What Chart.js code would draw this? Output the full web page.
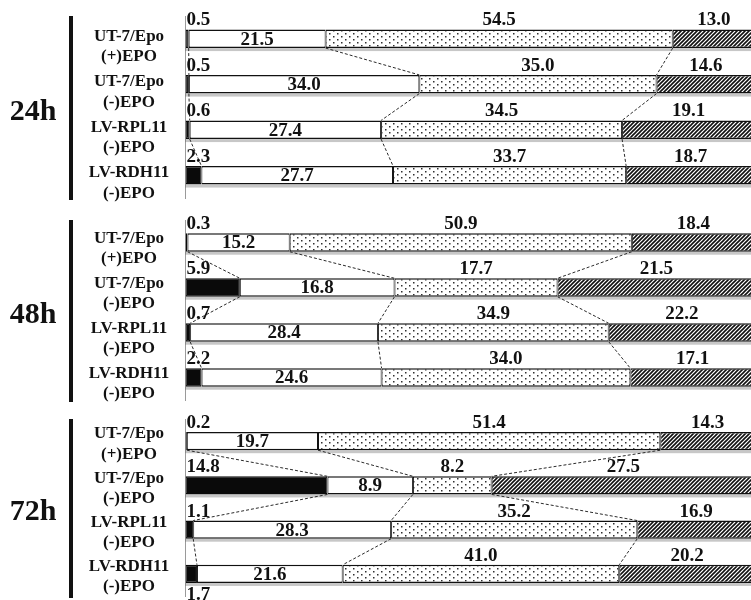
<!DOCTYPE html>
<html><head><meta charset="utf-8">
<script src="https://cdn.jsdelivr.net/npm/chart.js@4.4.0/dist/chart.umd.min.js"></script>
<style>
html,body{margin:0;padding:0;background:#fff;overflow:hidden;width:751px;height:600px;}
#wrap{position:relative;width:751px;height:600px;overflow:hidden;background:#fff;}
canvas{position:absolute;left:0;}
</style></head><body><div id="wrap">
<canvas id="c0" width="760" height="222" style="top:-4px"></canvas>
<canvas id="c1" width="760" height="220" style="top:200px"></canvas>
<canvas id="c2" width="760" height="217" style="top:399px"></canvas>
</div>
<script>
// ---- data ----
const groups = ['24h', '48h', '72h'];
const categories = [['UT-7/Epo', '(+)EPO'], ['UT-7/Epo', '(-)EPO'], ['LV-RPL11', '(-)EPO'], ['LV-RDH11', '(-)EPO']];
const blackVals   = [[0.5, 0.5, 0.6, 2.3], [0.3, 5.9, 0.7, 2.2], [0.2, 14.8, 1.1, 1.7]];
const whiteVals   = [[21.5, 34.0, 27.4, 27.7], [15.2, 16.8, 28.4, 24.6], [19.7, 8.9, 28.3, 21.6]];
const dottedVals  = [[54.5, 35.0, 34.5, 33.7], [50.9, 17.7, 34.9, 34.0], [51.4, 8.2, 35.2, 41.0]];
const hatchedVals = [[13.0, 14.6, 19.1, 18.7], [18.4, 21.5, 22.2, 17.1], [14.3, 27.5, 16.9, 20.2]];

// ---- layout / style ----
const AXIS_RIGHT = 185.5, LABEL_CX = 129;
const layoutPad = [{top:20,bottom:20,left:0,right:4.5},{top:20,bottom:20,left:0,right:4.5},{top:20,bottom:20,left:0,right:4.5}];
const labelOffsets = [8, 6, 3];
const belowLabel = [-1, -1, 3]; // index of bar whose first-segment label sits below the bar
const TICK_FONT = {family: '"Liberation Serif", "Times New Roman", serif', size: 17, weight: 'bold', lineHeight: 1.2};
const VAL_FONT = 'bold 19px "Liberation Serif", "Times New Roman", serif';
const GROUP_FONT = 'bold 30px "Liberation Serif", "Times New Roman", serif';

function makeDots(){
  const c = document.createElement('canvas'); c.width = 8; c.height = 6;
  const x = c.getContext('2d');
  x.fillStyle = '#fff'; x.fillRect(0, 0, 8, 6);
  x.fillStyle = '#303030';
  x.fillRect(1, 1, 1.5, 1.5); x.fillRect(5, 4, 1.5, 1.5);
  return x.createPattern(c, 'repeat');
}
function makeHatch(){
  const s = 4; const c = document.createElement('canvas'); c.width = s; c.height = s;
  const x = c.getContext('2d');
  x.fillStyle = '#fff'; x.fillRect(0, 0, s, s);
  x.strokeStyle = '#101010'; x.lineWidth = 1.6;
  x.beginPath();
  x.moveTo(-1, s + 1); x.lineTo(s + 1, -1);
  x.moveTo(-1, 1); x.lineTo(1, -1);
  x.moveTo(s - 1, s + 1); x.lineTo(s + 1, s - 1);
  x.stroke();
  return x.createPattern(c, 'repeat');
}
const dotPat = makeDots(), hatchPat = makeHatch();

// widest tick label for centring
const mctx = document.createElement('canvas').getContext('2d');
mctx.font = 'bold 17px "Liberation Serif", "Times New Roman", serif';
let widest = 0;
categories.forEach(c => c.forEach(l => { widest = Math.max(widest, mctx.measureText(l).width); }));
const tickLen = Math.max(0, AXIS_RIGHT - LABEL_CX - widest / 2);

const deco = {
  id: 'deco',
  beforeDatasetsDraw(chart) {
    const ctx = chart.ctx, area = chart.chartArea;
    const last = chart.getDatasetMeta(3).data;
    ctx.save();
    ctx.fillStyle = 'rgba(0,0,0,0.22)';
    last.forEach(el => {
      const b = el.y + el.height / 2;
      ctx.fillRect(area.left, b, el.x - area.left, 3);
    });
    ctx.restore();
  },
  afterDatasetsDraw(chart, args, opts) {
    const ctx = chart.ctx, area = chart.chartArea;
    const metas = [0, 1, 2, 3].map(k => chart.getDatasetMeta(k));
    const n = metas[0].data.length;
    // connectors
    ctx.save();
    ctx.strokeStyle = '#2a2a2a'; ctx.lineWidth = 1; ctx.setLineDash([3, 2]);
    for (let i = 0; i < n - 1; i++) {
      for (let k = 0; k < 3; k++) {
        const a = metas[k].data[i], b = metas[k].data[i + 1];
        ctx.beginPath();
        ctx.moveTo(a.x, a.y + a.height / 2);
        ctx.lineTo(b.x, b.y - b.height / 2);
        ctx.stroke();
      }
    }
    ctx.restore();
    // value labels
    ctx.save();
    ctx.font = VAL_FONT; ctx.fillStyle = '#111';
    for (let k = 0; k < 4; k++) {
      const raw = chart.data.datasets[k].raw;
      metas[k].data.forEach((el, i) => {
        const txt = raw[i].toFixed(1);
        const top = el.y - el.height / 2, bot = el.y + el.height / 2;
        if (k === 0) {
          ctx.textAlign = 'left';
          if (i === opts.below) { ctx.textBaseline = 'top'; ctx.fillText(txt, area.left + 1, bot + 3); }
          else { ctx.textBaseline = 'alphabetic'; ctx.fillText(txt, area.left + 1, top - 4); }
        } else if (k === 1) {
          ctx.textAlign = 'center'; ctx.textBaseline = 'middle';
          ctx.fillText(txt, (el.base + el.x) / 2, el.y + 1);
        } else {
          ctx.textAlign = 'center'; ctx.textBaseline = 'alphabetic';
          ctx.fillText(txt, (el.base + Math.min(el.x, 755)) / 2, top - 4);
        }
      });
    }
    // group label and bracket bar
    ctx.fillStyle = '#111';
    ctx.fillRect(69, area.top, 4, area.bottom - area.top + 2);
    ctx.font = GROUP_FONT; ctx.textAlign = 'center'; ctx.textBaseline = 'middle';
    ctx.fillText(opts.group, 33, (area.top + area.bottom) / 2 + 5);
    ctx.restore();
  }
};

function total(arrs, i) {
  return arrs.reduce((s, a) => s + a[i], 0);
}

groups.forEach((g, gi) => {
  const sets = [blackVals[gi], whiteVals[gi], dottedVals[gi], hatchedVals[gi]];
  const totals = categories.map((c, i) => total(sets, i));
  const pct = arr => arr.map((v, i) => v / totals[i] * 100);
  const common = {borderWidth: {top: 1.5, bottom: 1.5, left: 1, right: 1}, borderSkipped: false, barPercentage: 0.41, categoryPercentage: 1};
  new Chart(document.getElementById('c' + gi), {
    type: 'bar',
    data: {
      labels: categories,
      datasets: [
        Object.assign({label: 'black', data: pct(sets[0]), raw: sets[0], backgroundColor: '#0a0a0a', borderColor: '#0a0a0a'}, common),
        Object.assign({label: 'white', data: pct(sets[1]), raw: sets[1], backgroundColor: '#ffffff', borderColor: '#111'}, common),
        Object.assign({label: 'dotted', data: pct(sets[2]), raw: sets[2], backgroundColor: dotPat, borderColor: '#111'}, common),
        Object.assign({label: 'hatched', data: pct(sets[3]), raw: sets[3], backgroundColor: hatchPat, borderColor: '#111'}, common)
      ]
    },
    options: {
      indexAxis: 'y',
      responsive: false,
      animation: false,
      devicePixelRatio: 1,
      layout: {padding: layoutPad[gi]},
      plugins: {legend: {display: false}, tooltip: {enabled: false}, deco: {group: g, below: belowLabel[gi]}},
      scales: {
        x: {display: false, stacked: true, min: 0, max: 100},
        y: {
          stacked: true,
          grid: {display: true, drawOnChartArea: false, drawTicks: true, tickLength: tickLen, tickColor: 'rgba(0,0,0,0)'},
          border: {display: true, color: '#9a9a9a', width: 1},
          ticks: {font: TICK_FONT, color: '#111', crossAlign: 'center', padding: 0, labelOffset: labelOffsets[gi], autoSkip: false},
          afterFit(scale) { scale.width = AXIS_RIGHT; scale.paddingTop = 0; scale.paddingBottom = 0; }
        }
      }
    },
    plugins: [deco]
  });
});
</script>
</body></html>
